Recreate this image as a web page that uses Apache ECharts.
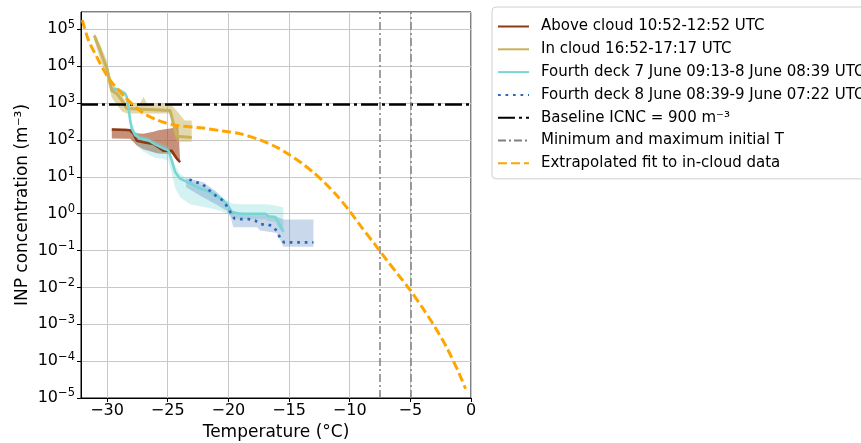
<!DOCTYPE html>
<html><head><meta charset="utf-8">
<script src="https://cdn.jsdelivr.net/npm/echarts@6/dist/echarts.min.js"></script>
<style>html,body{margin:0;padding:0;background:#fff}#c{width:861px;height:443px}</style>
</head><body><div id="c"></div>
<script>
// ---------- tick labels ----------
const xTickValues = [-30, -25, -20, -15, -10, -5, 0];
const yTickExponents = [-5, -4, -3, -2, -1, 0, 1, 2, 3, 4, 5];

// ---------- Above cloud 10:52-12:52 UTC (brown) ----------
const aboveT    = [-29.61, -28.38, -28.10, -27.83, -27.55, -27.01, -26.18, -25.77, -25.36, -24.67, -24.25, -24.12, -23.98];
const aboveVal  = [191, 186, 182, 148, 95, 87, 78, 63, 51, 51, 31, 28, 25];
const aboveLow  = [110, 107, 107, 89, 71, 56, 46, 43, 42, 42, 28, 26, 24];
const aboveHigh = [204, 200, 191, 166, 151, 148, 166, 182, 191, 209, 224, 224, 26];

// ---------- In cloud 16:52-17:17 UTC (khaki) ----------
const inCloudT   = [-31.05, -30.58, -30.02, -29.61, -29.20, -28.79, -28.38, -28.24, -24.81, -24.27, -23.02];
const inCloudVal = [68000, 27000, 8700, 2200, 1800, 1200, 710, 630, 630, 126, 117];
const inCloudBandT = [-31.05, -30.58, -30.02, -29.61, -29.20, -28.79, -28.38, -28.24, -27.3, -27.0, -26.7, -24.81, -24.27, -23.6, -23.02];
const inCloudLow  = [50000, 16000, 5000, 1400, 900, 600, 525, 525, 525, 525, 525, 525, 89, 89, 89];
const inCloudHigh = [79000, 40000, 14000, 3500, 2500, 1600, 1000, 955, 955, 1480, 955, 955, 631, 339, 339];

// ---------- Fourth deck 7 June (cyan) ----------
const deck7T    = [-29.5, -29.07, -28.52, -28.38, -28.24, -28.10, -27.96, -27.69, -27.28, -26.60, -26.04, -25.49, -24.95, -24.67, -24.39, -23.98, -23.16, -22.33, -21.51, -20.68, -20.13, -19.72, -19.04, -16.97, -16.70, -16.15, -15.88, -15.47];
const deck7Val  = [2400, 2340, 1820, 1480, 780, 340, 204, 135, 110, 98, 76, 62, 52, 28, 13.5, 8.9, 6.6, 4.8, 3.9, 2.6, 1.9, 1.12, 1.0, 1.0, 0.85, 0.81, 0.60, 0.32];
const deck7Low  = [2140, 2000, 1410, 1000, 500, 224, 141, 89, 56, 40, 33, 31, 27.5, 12.6, 5.0, 2.8, 1.8, 1.6, 1.4, 1.2, 1.0, 0.79, 0.71, 0.71, 0.63, 0.60, 0.40, 0.30];
const deck7High = [2690, 2630, 2090, 1780, 1000, 500, 282, 178, 132, 117, 95, 79, 66, 35, 20, 12, 7.9, 6.0, 4.8, 3.1, 2.3, 1.9, 1.8, 1.8, 1.78, 1.66, 1.58, 1.48];

// ---------- Fourth deck 8 June (blue dotted) ----------
const deck8T   = [-23.22, -22.66, -22.19, -21.73, -21.29, -20.82, -20.41, -20.08, -19.80, -19.51, -19.04, -18.35, -17.80, -17.33, -16.83, -16.37, -16.01, -15.74, -15.41, -12.99];
const deck8Val = [8.5, 7.1, 6.6, 4.8, 3.5, 2.75, 2.24, 1.51, 1.05, 0.74, 0.71, 0.71, 0.65, 0.51, 0.52, 0.46, 0.34, 0.22, 0.166, 0.166];
const deck8BandT = [-23.49, -22.06, -21.0, -20.13, -19.86, -19.59, -17.66, -17.38, -16.01, -15.47, -12.99];
const deck8Low   = [5.2, 2.75, 1.78, 1.2, 0.89, 0.43, 0.43, 0.35, 0.30, 0.126, 0.126];
const deck8High  = [9.3, 7.1, 4.0, 2.0, 1.48, 1.12, 0.95, 0.93, 0.83, 0.69, 0.69];

// ---------- Baseline, initial T range, extrapolated fit ----------
const baselineICNC = 900;
const initialTRange = [-7.5, -5];
const fitT   = [-32.04, -31.54, -30.99, -29.92, -28.52, -27.11, -25.80, -24.39, -22.09, -20.52, -19.04, -17.4, -16.0, -15.0, -14.0, -13.0, -12.0, -11.0, -10.0, -9.0, -8.0, -7.0, -6.0, -5.0, -4.0, -3.0, -2.0, -1.0, -0.45];
const fitVal = [178000, 51000, 22000, 5000, 1450, 560, 340, 250, 210, 175, 148, 100, 63, 40, 24, 13.2, 6.6, 2.95, 1.17, 0.42, 0.158, 0.058, 0.022, 0.0083, 0.0028, 0.00087, 0.000234, 0.000048, 0.0000178];

const NAMES = [
  'Above cloud 10:52-12:52 UTC',
  'In cloud 16:52-17:17 UTC',
  'Fourth deck 7 June 09:13-8 June 08:39 UTC',
  'Fourth deck 8 June 08:39-9 June 07:22 UTC',
  'Baseline ICNC = 900 m\u207B\u00B3',
  'Minimum and maximum initial T',
  'Extrapolated fit to in-cloud data'
];
const COL = { above:'#8b3a14', inCloud:'#c8b25c', deck7:'#77d6d4', deck8:'#2c67bd', fit:'#ffa500' };
const FONT = 'DejaVu Sans';

function pairs(t, v) { return t.map((x, i) => [x, v[i]]); }
function band(t, lo, hi, fill) {
  return {
    type:'custom', silent:true, z:1, clip:true,
    data: t.map((x, i) => [x, lo[i], hi[i]]),
    encode:{x:0, y:[1, 2]},
    renderItem: (params, api) => {
      if (params.dataIndex !== 0) return null;
      const top = t.map((x, i) => api.coord([x, hi[i]]));
      const bot = t.map((x, i) => api.coord([x, lo[i]])).reverse();
      return { type:'polygon', shape:{points: top.concat(bot)}, style:{fill: fill, stroke:null} };
    }
  };
}
function line(name, t, v, color, width, type) {
  return { type:'line', name, data:pairs(t, v), symbol:'none', showSymbol:false,
    lineStyle:{color, width, type: type || 'solid', cap:'butt'}, itemStyle:{color}, z:3 };
}

const series = [
  band(aboveT, aboveLow, aboveHigh, 'rgba(160,70,35,0.6)'),
  band(inCloudBandT, inCloudLow, inCloudHigh, 'rgba(200,178,92,0.5)'),
  band(deck7T, deck7Low, deck7High, 'rgba(119,214,212,0.32)'),
  band(deck8BandT, deck8Low, deck8High, 'rgba(80,125,190,0.3)'),
  line(NAMES[0], aboveT, aboveVal, COL.above, 2.5),
  line(NAMES[1], inCloudT, inCloudVal, COL.inCloud, 3),
  line(NAMES[2], deck7T, deck7Val, COL.deck7, 2.5),
  line(NAMES[3], deck8T, deck8Val, COL.deck8, 2.7, [2.7, 4.8]),
  { type:'line', name:NAMES[4], data:[], symbol:'none',
    lineStyle:{color:'#000', width:2.7, type:[17,4,3,4]}, itemStyle:{color:'#000'}, z:4,
    markLine:{ silent:true, symbol:['none','none'], label:{show:false},
      lineStyle:{color:'#000', width:2.7, type:[17,4,3,4]}, data:[{yAxis: baselineICNC}] } },
  { type:'line', name:NAMES[5], data:[], symbol:'none',
    lineStyle:{color:'#808080', width:1.5, type:[8,3,2,3]}, itemStyle:{color:'#808080'}, z:4,
    markLine:{ silent:true, symbol:['none','none'], label:{show:false},
      lineStyle:{color:'#808080', width:1.5, type:[8,3,2,3]}, data: initialTRange.map(v => ({xAxis:v})) } },
  Object.assign(line(NAMES[6], fitT, fitVal, COL.fit, 3, [9,4]), {smooth:0.3, z:5})
];

const chart = echarts.init(document.getElementById('c'), null, {renderer:'canvas'});
chart.setOption({
  animation:false,
  backgroundColor:'#fff',
  textStyle:{fontFamily:FONT},
  grid:{ left:81, right:390, top:12, bottom:45, show:true, borderColor:'#000', borderWidth:1, outerBoundsMode:'none', containLabel:false },
  xAxis:{
    type:'value', min:-32.15, max:0,
    name:'Temperature (°C)', nameLocation:'middle', nameGap:26,
    nameTextStyle:{fontSize:17, color:'#000', fontFamily:FONT},
    axisLine:{show:true, onZero:false, lineStyle:{color:'#000', width:1}},
    axisTick:{show:true, length:4, lineStyle:{color:'#000'}},
    axisLabel:{ fontSize:16, color:'#000', margin:5, fontFamily:FONT, showMinLabel:false,
      formatter: v => { const k = xTickValues.findIndex(t => Math.abs(t - v) < 1e-6); if (k < 0) return '';
        const t = xTickValues[k]; return (t < 0 ? '\u2212' : '') + Math.abs(t); } },
    splitLine:{show:true, lineStyle:{color:'#c8c8c8', width:1}}
  },
  yAxis:{
    type:'log', logBase:10, min:1e-5, max:Math.pow(10, 5.47), interval:1,
    name:'INP concentration (m\u207B\u00B3)', nameLocation:'middle', nameGap:50,
    nameTextStyle:{fontSize:17, color:'#000', fontFamily:FONT},
    axisLine:{show:true, onZero:false, lineStyle:{color:'#000', width:1}},
    axisTick:{show:true, length:4, lineStyle:{color:'#000'}},
    axisLabel:{ color:'#000', margin:6, fontFamily:FONT, showMaxLabel:false,
      formatter: v => { const l = Math.log10(v); const e = Math.round(l);
        if (Math.abs(l - e) > 1e-6 || yTickExponents.indexOf(e) < 0) return '';
        return '{b|10}{s|' + (e < 0 ? '\u2212' : '') + Math.abs(e) + '}'; },
      rich:{ b:{fontSize:16, fontFamily:FONT, color:'#000'}, s:{fontSize:11.5, fontFamily:FONT, color:'#000', padding:[0,0,9,0]} } },
    splitLine:{show:true, lineStyle:{color:'#c8c8c8', width:1}}
  },
  legend:{
    orient:'vertical', left:492, top:7, padding:[12,10,8,5], itemGap:7.8, itemWidth:31, itemHeight:15,
    borderColor:'#d0d0d0', borderWidth:1, borderRadius:4, backgroundColor:'#fff',
    selectedMode:false, itemStyle:{opacity:0},
    textStyle:{fontSize:15, fontFamily:FONT, color:'#000', padding:[0,0,0,7]},
    data: NAMES.map(n => ({name:n}))
  },
  series
});
</script></body></html>
